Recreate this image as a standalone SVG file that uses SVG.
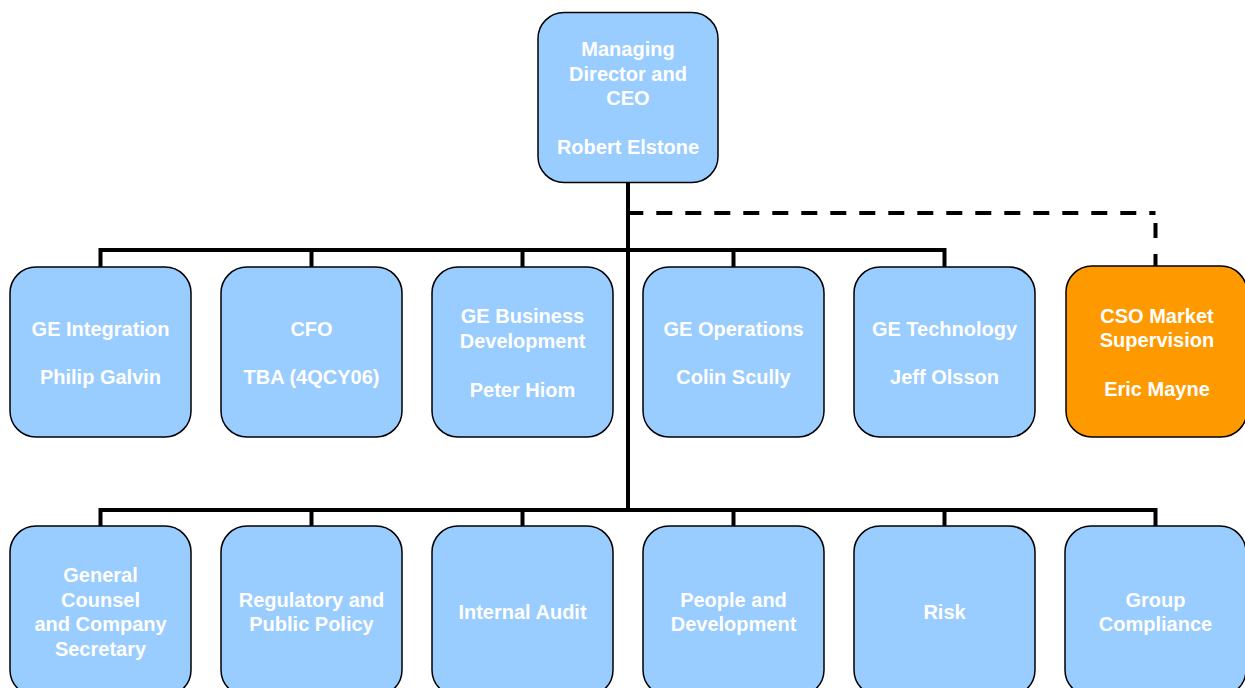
<svg xmlns="http://www.w3.org/2000/svg" width="1245" height="688" viewBox="0 0 1245 688">
  <style>
    .box { fill: #99CCFF; stroke: #000; stroke-width: 1.5; }
    .box.cso { fill: #FF9900; }
    .lbl { font-family: "Liberation Sans", Arial, sans-serif; font-weight: bold; font-size: 20px; fill: #fff; text-anchor: middle; }
    .wire { fill: none; stroke: #000; stroke-width: 4; stroke-linejoin: miter; }
    .dotted { fill: none; stroke: #000; stroke-width: 4; stroke-dasharray: 16 13; }
  </style>
  <rect width="1245" height="688" fill="#fff"/>

  <!-- reporting lines -->
  <g id="connectors">
    <path class="wire" d="M628,182 V510"/>
    <path class="wire" d="M100.5,268 V250 H944.5 V268"/>
    <path class="wire" d="M311.5,250 V268 M522.5,250 V268 M733.5,250 V268"/>
    <path class="wire" d="M100.5,527 V510 H1155.5 V527"/>
    <path class="wire" d="M311.5,510 V527 M522.5,510 V527 M733.5,510 V527 M944.5,510 V527"/>
    <!-- dotted line to market supervision -->
    <path class="dotted" d="M627.3,213 H1155.5"/>
    <path class="dotted" d="M1155.5,266 V213" style="stroke-dasharray: 12 16 15 100"/>
  </g>

  <!-- chief executive -->
  <g id="ceo">
    <rect class="box" x="538" y="12.5" width="180" height="170" rx="26"/>
    <text class="lbl" x="628" y="56">Managing</text>
    <text class="lbl" x="628" y="80.5">Director and</text>
    <text class="lbl" x="628" y="105">CEO</text>
    <text class="lbl" x="628" y="153.5">Robert Elstone</text>
  </g>

  <!-- direct reports -->
  <g id="ge-integration">
    <rect class="box" x="10" y="267" width="181" height="170" rx="26"/>
    <text class="lbl" x="100.5" y="336">GE Integration</text>
    <text class="lbl" x="100.5" y="384">Philip Galvin</text>
  </g>
  <g id="cfo">
    <rect class="box" x="221" y="267" width="181" height="170" rx="26"/>
    <text class="lbl" x="311.5" y="336">CFO</text>
    <text class="lbl" x="311.5" y="384">TBA (4QCY06)</text>
  </g>
  <g id="ge-business-development">
    <rect class="box" x="432" y="267" width="181" height="170" rx="26"/>
    <text class="lbl" x="522.5" y="323">GE Business</text>
    <text class="lbl" x="522.5" y="347.5">Development</text>
    <text class="lbl" x="522.5" y="396.5">Peter Hiom</text>
  </g>
  <g id="ge-operations">
    <rect class="box" x="643" y="267" width="181" height="170" rx="26"/>
    <text class="lbl" x="733.5" y="336">GE Operations</text>
    <text class="lbl" x="733.5" y="384">Colin Scully</text>
  </g>
  <g id="ge-technology">
    <rect class="box" x="854" y="267" width="181" height="170" rx="26"/>
    <text class="lbl" x="944.5" y="336">GE Technology</text>
    <text class="lbl" x="944.5" y="384">Jeff Olsson</text>
  </g>
  <g id="cso-market-supervision">
    <rect class="box cso" x="1066" y="266" width="181" height="171" rx="26"/>
    <text class="lbl" x="1157" y="323">CSO Market</text>
    <text class="lbl" x="1157" y="347">Supervision</text>
    <text class="lbl" x="1157" y="396">Eric Mayne</text>
  </g>

  <!-- corporate functions -->
  <g id="general-counsel">
    <rect class="box" x="10" y="526" width="181" height="170" rx="26"/>
    <text class="lbl" x="100.5" y="582">General</text>
    <text class="lbl" x="100.5" y="606.5">Counsel</text>
    <text class="lbl" x="100.5" y="631">and Company</text>
    <text class="lbl" x="100.5" y="655.5">Secretary</text>
  </g>
  <g id="regulatory-public-policy">
    <rect class="box" x="221" y="526" width="181" height="170" rx="26"/>
    <text class="lbl" x="311.5" y="607">Regulatory and</text>
    <text class="lbl" x="311.5" y="631">Public Policy</text>
  </g>
  <g id="internal-audit">
    <rect class="box" x="432" y="526" width="181" height="170" rx="26"/>
    <text class="lbl" x="522.5" y="619">Internal Audit</text>
  </g>
  <g id="people-development">
    <rect class="box" x="643" y="526" width="181" height="170" rx="26"/>
    <text class="lbl" x="733.5" y="607">People and</text>
    <text class="lbl" x="733.5" y="631">Development</text>
  </g>
  <g id="risk">
    <rect class="box" x="854" y="526" width="181" height="170" rx="26"/>
    <text class="lbl" x="944.5" y="619">Risk</text>
  </g>
  <g id="group-compliance">
    <rect class="box" x="1065" y="526" width="181" height="170" rx="26"/>
    <text class="lbl" x="1155.5" y="607">Group</text>
    <text class="lbl" x="1155.5" y="631">Compliance</text>
  </g>
</svg>
